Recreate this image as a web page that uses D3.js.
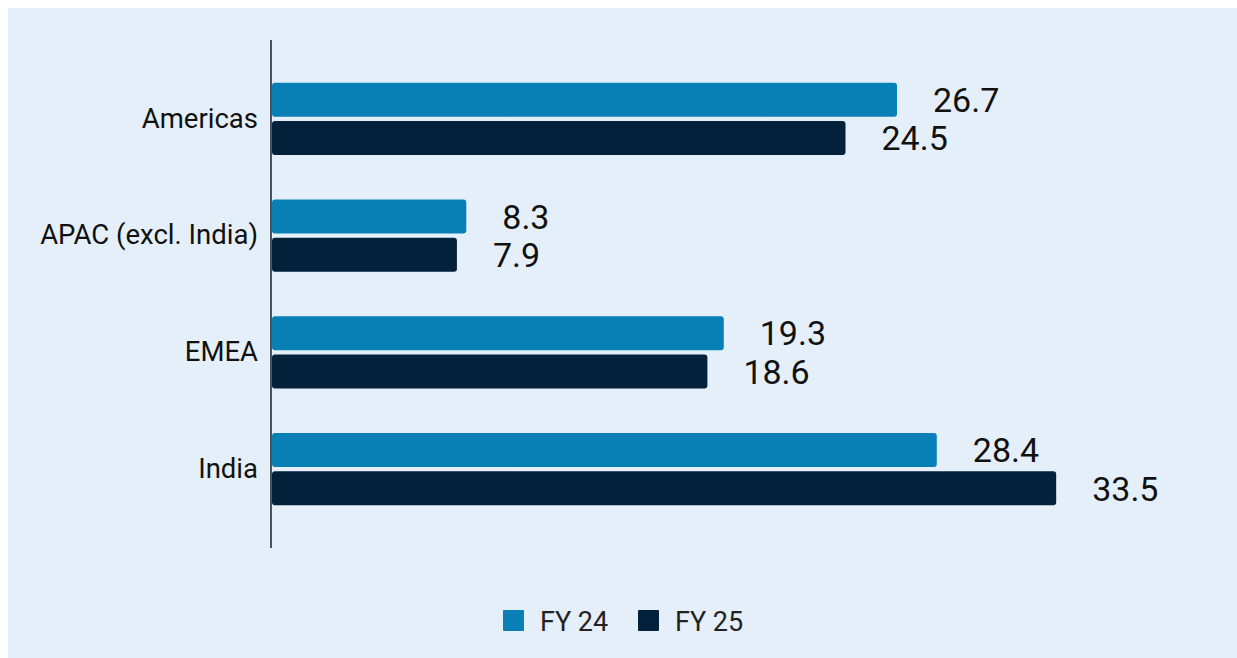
<!DOCTYPE html>
<html><head><meta charset="utf-8">
<script src="https://cdn.jsdelivr.net/npm/d3@7"></script>
<style>
html,body{margin:0;padding:0;background:#fff;}
svg{display:block;font-family:Roboto, "Noto Sans", sans-serif;}
</style></head>
<body>
<svg id="chart" width="1237" height="658"></svg>
<script>
const categories = ["Americas", "APAC (excl. India)", "EMEA", "India"];
const seriesNames = ["FY 24", "FY 25"];
const fy24 = [26.7, 8.3, 19.3, 28.4];
const fy25 = [24.5, 7.9, 18.6, 33.5];
const colors = ["#0880b5", "#03213a"];

const svg = d3.select("#chart");
svg.append("rect").attr("x", 8).attr("y", 8).attr("width", 1229).attr("height", 650).attr("fill", "#e5eff9");

const x0 = 272;
const x = d3.scaleLinear().domain([0, 26.7]).range([x0, 897]);
const y = d3.scaleBand().domain(categories).range([60.5, 527.5]).paddingInner(0.38).paddingOuter(0.19);
const ySub = d3.scaleBand().domain(seriesNames).range([0, y.bandwidth()]).paddingInner(0.11);

const data = categories.map((c, i) => ({cat: c, vals: [fy24[i], fy25[i]]}));

const g = svg.append("g");
data.forEach(d => {
  d.vals.forEach((v, j) => {
    const yy = y(d.cat) + ySub(seriesNames[j]);
    g.append("rect").attr("x", x(0)).attr("y", yy)
      .attr("width", x(v) - x(0)).attr("height", ySub.bandwidth())
      .attr("rx", 3).attr("fill", colors[j]);
    g.append("text").attr("x", x(v) + 36).attr("y", yy + ySub.bandwidth() / 2)
      .attr("dy", "0.36em").attr("font-size", 34).attr("fill", "#111").text(v.toFixed(1));
  });
});

// y axis
const yAxis = d3.axisLeft(y).tickSize(0).tickPadding(13);
const ax = svg.append("g").attr("transform", `translate(${x0 - 1},0)`).call(yAxis);
ax.select(".domain").remove();
ax.selectAll("text").attr("font-size", 27.5).attr("fill", "#111").attr("font-family", "Roboto, sans-serif");
svg.append("line").attr("x1", x0 - 1).attr("x2", x0 - 1).attr("y1", 40).attr("y2", 548)
  .attr("stroke", "#4a545e").attr("stroke-width", 2);

// legend
const legend = svg.append("g");
const lx = [503, 638];
seriesNames.forEach((s, j) => {
  legend.append("rect").attr("x", lx[j]).attr("y", 610).attr("width", 21).attr("height", 21).attr("rx", 1).attr("fill", colors[j]);
  legend.append("text").attr("x", lx[j] + 37).attr("y", 621).attr("dy", "0.36em")
    .attr("font-size", 27).attr("fill", "#222").text(s);
});
</script>
</body></html>
